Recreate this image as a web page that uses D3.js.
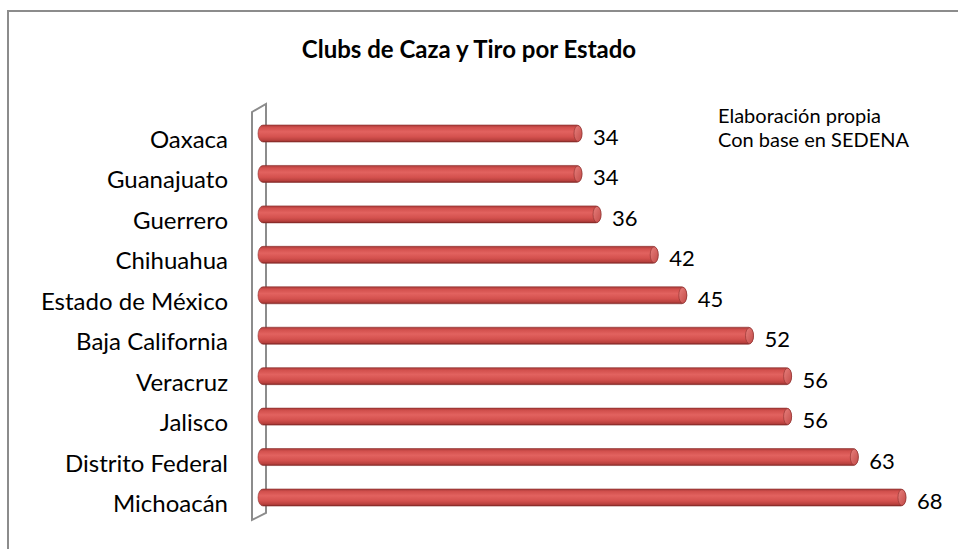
<!DOCTYPE html>
<html>
<head>
<meta charset="utf-8">
<script src="https://cdn.jsdelivr.net/npm/d3@7"></script>
<style>
    body { margin: 0; background: #fff; }
    svg { display: block; font-family: Lato, 'Open Sans', sans-serif; }
</style>
</head>
<body>
<svg width="958" height="549"></svg>
<script>
// Data
const states = ['Oaxaca', 'Guanajuato', 'Guerrero', 'Chihuahua', 'Estado de México',
    'Baja California', 'Veracruz', 'Jalisco', 'Distrito Federal', 'Michoacán'];
const clubs = [34, 34, 36, 42, 45, 52, 56, 56, 63, 68];
const titleText = 'Clubs de Caza y Tiro por Estado';
const noteLines = ['Elaboración propia', 'Con base en SEDENA'];

const svg = d3.select('svg');

// Outer chart frame (right and bottom edges run off the picture)
svg.append('rect')
    .attr('x', 8).attr('y', 11)
    .attr('width', 980).attr('height', 580)
    .attr('fill', '#fff')
    .attr('stroke', '#8c8c8c')
    .attr('stroke-width', 2);

// Scales
const x = d3.scaleLinear().domain([0, 70]).range([258, 925]);
const y = d3.scalePoint().domain(states).range([133.5, 497.5]);
const barH = 17;

// Gradient for the cylinder look
const defs = svg.append('defs');
const grad = defs.append('linearGradient')
    .attr('id', 'barGrad')
    .attr('x1', 0).attr('y1', 0).attr('x2', 0).attr('y2', 1);
[
    [0, '#a83a38'],
    [0.15, '#d2504d'],
    [0.4, '#e2625f'],
    [0.7, '#d4514e'],
    [0.9, '#b8403d'],
    [1, '#7d2624'],
].forEach(([o, c]) => grad.append('stop').attr('offset', o).attr('stop-color', c));

const capGrad = defs.append('linearGradient')
    .attr('id', 'capGrad')
    .attr('x1', 0).attr('y1', 0).attr('x2', 1).attr('y2', 1);
capGrad.append('stop').attr('offset', 0).attr('stop-color', '#e8807d');
capGrad.append('stop').attr('offset', 1).attr('stop-color', '#c24a47');

// 3D axis wall
const wall = [[252, 112], [266, 104], [266, 513], [252, 520]];
svg.append('polygon')
    .attr('points', wall.map((p) => p.join(',')).join(' '))
    .attr('fill', '#fff')
    .attr('stroke', '#8c8c8c')
    .attr('stroke-width', 2);

// Bars
const bars = svg.append('g').attr('class', 'bars')
    .selectAll('g')
    .data(states.map((s, i) => ({ state: s, value: clubs[i] })))
    .join('g');

bars.append('rect')
    .attr('x', x(0))
    .attr('y', (d) => y(d.state) - barH / 2)
    .attr('width', (d) => x(d.value) - x(0))
    .attr('height', barH)
    .attr('rx', 5).attr('ry', barH / 2)
    .attr('fill', 'url(#barGrad)')
    .attr('stroke', '#8a2f2d')
    .attr('stroke-width', 0.6);

bars.append('ellipse')
    .attr('cx', (d) => x(d.value) - 4)
    .attr('cy', (d) => y(d.state))
    .attr('rx', 4)
    .attr('ry', barH / 2 - 0.5)
    .attr('fill', 'url(#capGrad)')
    .attr('stroke', '#8a2f2d')
    .attr('stroke-width', 0.6);

// Value labels
bars.append('text')
    .attr('x', (d) => x(d.value) + 11)
    .attr('y', (d) => y(d.state) + 3)
    .attr('dominant-baseline', 'central')
    .attr('font-size', 22)
    .attr('fill', '#000')
    .text((d) => d.value);

// Category labels
svg.append('g').attr('class', 'labels')
    .selectAll('text')
    .data(states)
    .join('text')
    .attr('x', 228)
    .attr('y', (d) => y(d) + 5)
    .attr('text-anchor', 'end')
    .attr('dominant-baseline', 'central')
    .attr('font-size', 24)
    .attr('fill', '#000')
    .text((d) => d);

// Title
svg.append('text')
    .attr('x', 469)
    .attr('y', 58)
    .attr('text-anchor', 'middle')
    .attr('font-size', 24)
    .attr('font-weight', 'bold')
    .text(titleText);

// Source note
svg.append('g')
    .selectAll('text')
    .data(noteLines)
    .join('text')
    .attr('x', 718)
    .attr('y', (d, i) => 123 + i * 24)
    .attr('font-size', 20)
    .text((d) => d);
</script>
</body>
</html>
